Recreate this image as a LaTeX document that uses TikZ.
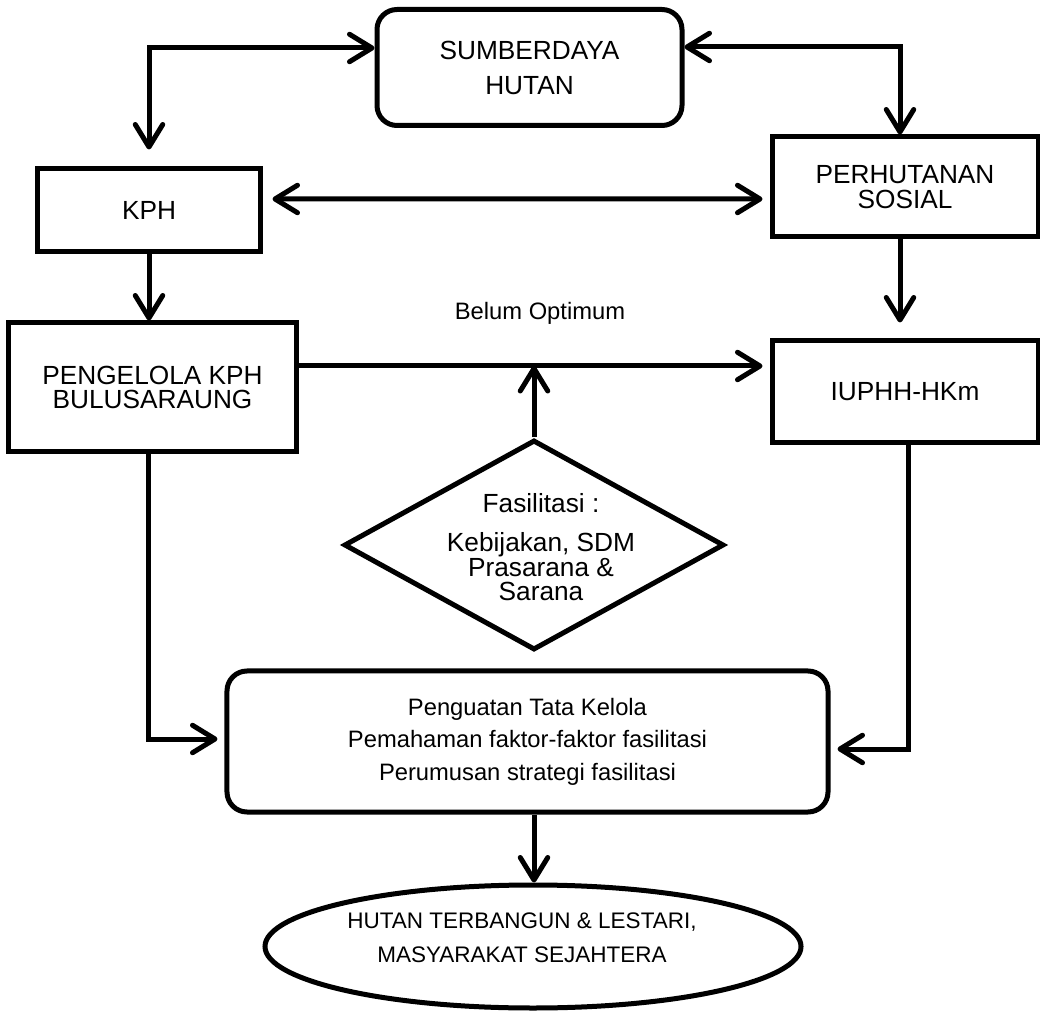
\documentclass[tikz,border=0pt]{standalone}
\usepackage{fontspec}
\setmainfont{Liberation Sans}
\usetikzlibrary{arrows.meta, positioning, shapes.geometric}
\tikzset{barb/.tip={Straight Barb[length=9pt,width=11pt,round]}}

\begin{document}
\begin{tikzpicture}[x=0.4pt, y=-0.4pt,
    box/.style={draw, line width=2pt, inner sep=0pt, align=center,
        font=\fontsize{10.5}{10}\selectfont},
    rbox/.style={box, rounded corners=8pt},
    arr/.style={line width=2pt, -barb},
    biarr/.style={line width=2pt, barb-barb}]

    % Frame of the picture
    \useasboundingbox (0,0) rectangle (1040,1011);

    % Boxes
    \node[rbox, minimum width=122pt, minimum height=46.4pt, font=\fontsize{10.5}{14}\selectfont]
        (hutan) at (529.5,67.5) {SUMBERDAYA\\HUTAN};
    \node[box, minimum width=88.8pt, minimum height=33.2pt] (kph) at (149,210.5) {KPH};
    \node[box, minimum width=106.4pt, minimum height=40pt] (sosial) at (905,187) {PERHUTANAN\\SOSIAL};
    \node[box, minimum width=114.8pt, minimum height=51.6pt, font=\fontsize{10.5}{9.6}\selectfont]
        (pengelola) at (152.5,387.5) {PENGELOLA KPH\\BULUSARAUNG};
    \node[box, minimum width=106.4pt, minimum height=40.8pt] (iuphh) at (905,392) {IUPHH-HKm};

    % Fasilitasi
    \node[draw, diamond, line width=2pt, inner sep=0pt, minimum width=152pt, minimum height=84pt]
        (fas) at (534,545) {};
    \node[align=center, font=\fontsize{10.5}{9.8}\selectfont] (fastext) at (541,547)
        {Fasilitasi :\\[6pt]Kebijakan, SDM\\Prasarana \&\\Sarana};

    \node[rbox, minimum width=240.4pt, minimum height=56.4pt, font=\fontsize{9.5}{13}\selectfont]
        (tata) at (527.5,741.5) {Penguatan Tata Kelola\\Pemahaman faktor-faktor fasilitasi\\Perumusan strategi fasilitasi};

    % Hasil
    \node[draw, ellipse, line width=2pt, inner sep=0pt, minimum width=214.4pt, minimum height=49.2pt]
        (hasil) at (533,946.5) {};
    \node[align=center, font=\fontsize{9}{13.6}\selectfont] (hasiltext) at (522,938)
        {HUTAN TERBANGUN \& LESTARI,\\MASYARAKAT SEJAHTERA};
    \node[font=\fontsize{9.5}{11}\selectfont] (belum) at (540,313) {Belum Optimum};

    % Arrows
    \draw[biarr, shorten >=6.8pt] ([yshift=7.8pt]hutan.west) -| (kph.north);
    \draw[biarr] ([yshift=8.2pt]hutan.east) -| ([xshift=-2pt]sosial.north);
    \draw[biarr, shorten <=4pt, shorten >=2.8pt] ([yshift=4.6pt]kph.east) -- ([yshift=-4.8pt]sosial.west);
    \draw[arr] (kph.south) -- (kph.south |- pengelola.north);
    \draw[arr, shorten >=6.4pt] ([xshift=-2pt]sosial.south) -- ([xshift=-2pt]sosial.south |- iuphh.north);
    \coordinate (jalur) at ([yshift=8.6pt]pengelola.east);
    \draw[arr, shorten >=2.8pt] (jalur) -- (jalur -| iuphh.west);
    \draw[arr] (fas.north) -- (fas.north |- jalur);
    \draw[arr, shorten >=2.8pt] ([xshift=-1.8pt]pengelola.south) |- ([yshift=1pt]tata.west);
    \draw[arr, shorten >=2.8pt] ([xshift=1.4pt]iuphh.south) |- ([yshift=-3pt]tata.east);
    \draw[arr] (tata.south -| fas.south) -- (hasil.north -| fas.south);

\end{tikzpicture}
\end{document}
